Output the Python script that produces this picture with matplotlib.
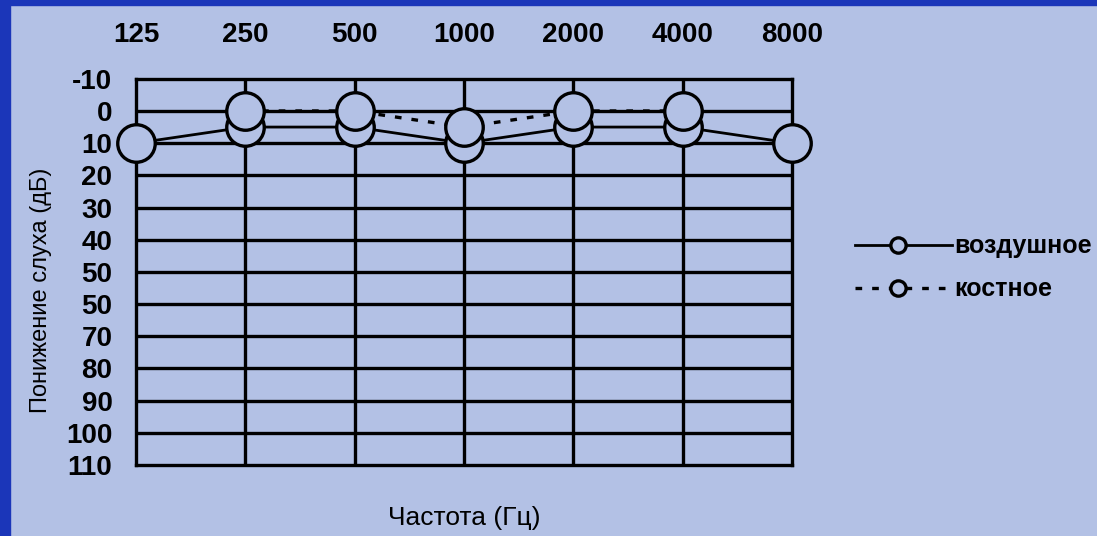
import numpy as np
import matplotlib.pyplot as plt
from matplotlib.patches import Rectangle

# audiogram data
freqs = [125, 250, 500, 1000, 2000, 4000, 8000]
freq_labels = ['125', '250', '500', '1000', '2000', '4000', '8000']
air_freqs = [125, 250, 500, 1000, 2000, 4000, 8000]
air_db = [10, 5, 5, 10, 5, 5, 10]
bone_freqs = [250, 500, 1000, 2000, 4000]
bone_db = [0, 0, 5, 0, 0]
db_ticks = [-10, 0, 10, 20, 30, 40, 50, 60, 70, 80, 90, 100, 110]
db_labels = ['-10', '0', '10', '20', '30', '40', '50', '50', '70', '80', '90', '100', '110']

bg = '#b3c1e5'
plt.rcParams['font.family'] = ['Liberation Sans', 'DejaVu Sans']

fig = plt.figure(figsize=(10.97, 5.36), dpi=100, facecolor=bg)
ax = fig.add_axes([0.124, 0.1325, 0.598, 0.7205])
ax.set_facecolor(bg)

# blue frame on left and top
fig.patches.append(Rectangle((0, 0), 10 / 1097, 1, transform=fig.transFigure,
                             color='#1b36b9', zorder=0))
fig.patches.append(Rectangle((0, 1 - 5 / 536), 1, 5 / 536, transform=fig.transFigure,
                             color='#1b36b9', zorder=0))

ax.set_xscale('log', base=2)
ax.set_xlim(125, 8000)
ax.set_ylim(110, -10)

for f in freqs[1:-1]:
    ax.axvline(f, color='black', lw=2.4, zorder=1)
for d in db_ticks[1:-1]:
    ax.axhline(d, color='black', lw=2.4, zorder=1)
for s in ax.spines.values():
    s.set_linewidth(2.4)

ax.plot(air_freqs, air_db, '-', color='black', lw=2, marker='o', ms=27,
        mfc=bg, mec='black', mew=2.4, clip_on=False, zorder=3)
ax.plot(bone_freqs, bone_db, color='black', lw=2.4, ls=(0, (2, 3)), marker='o', ms=27,
        mfc=bg, mec='black', mew=2.4, clip_on=False, zorder=4)

ax.xaxis.tick_top()
ax.set_xticks(freqs)
ax.set_xticklabels(freq_labels, fontsize=20, fontweight='bold')
ax.xaxis.set_minor_locator(plt.NullLocator())
ax.set_yticks(db_ticks)
ax.set_yticklabels(db_labels, fontsize=20, fontweight='bold')
ax.tick_params(length=0)
ax.tick_params(axis='x', pad=22)
ax.tick_params(axis='y', pad=17)

ax.set_ylabel('Понижение слуха (дБ)', fontsize=17)
ax.yaxis.set_label_coords(-0.128, 0.453)
fig.text(464 / 1097, 1 - 518 / 536, 'Частота (Гц)', fontsize=19, ha='center', va='center')

# legend drawn by hand in figure coords
lx0, lxm = 855 / 1097, 898 / 1097
fig.lines.append(plt.Line2D([lx0, 952 / 1097], [1 - 245 / 536] * 2, transform=fig.transFigure,
                            color='black', lw=2))
fig.lines.append(plt.Line2D([lxm], [1 - 245 / 536], transform=fig.transFigure,
                            marker='o', ms=11, mfc=bg, mec='black', mew=2.4))
fig.text(954 / 1097, 1 - 246 / 536, 'воздушное', fontsize=18, fontweight='bold',
         va='center', ha='left')
fig.lines.append(plt.Line2D([lx0, 950 / 1097], [1 - 288 / 536] * 2, transform=fig.transFigure,
                            color='black', lw=2.4, ls=(0, (2, 3))))
fig.lines.append(plt.Line2D([lxm], [1 - 288 / 536], transform=fig.transFigure,
                            marker='o', ms=11, mfc=bg, mec='black', mew=2.4))
fig.text(954 / 1097, 1 - 289 / 536, 'костное', fontsize=18, fontweight='bold',
         va='center', ha='left')

fig.savefig('out.png', dpi=100, facecolor=bg)
